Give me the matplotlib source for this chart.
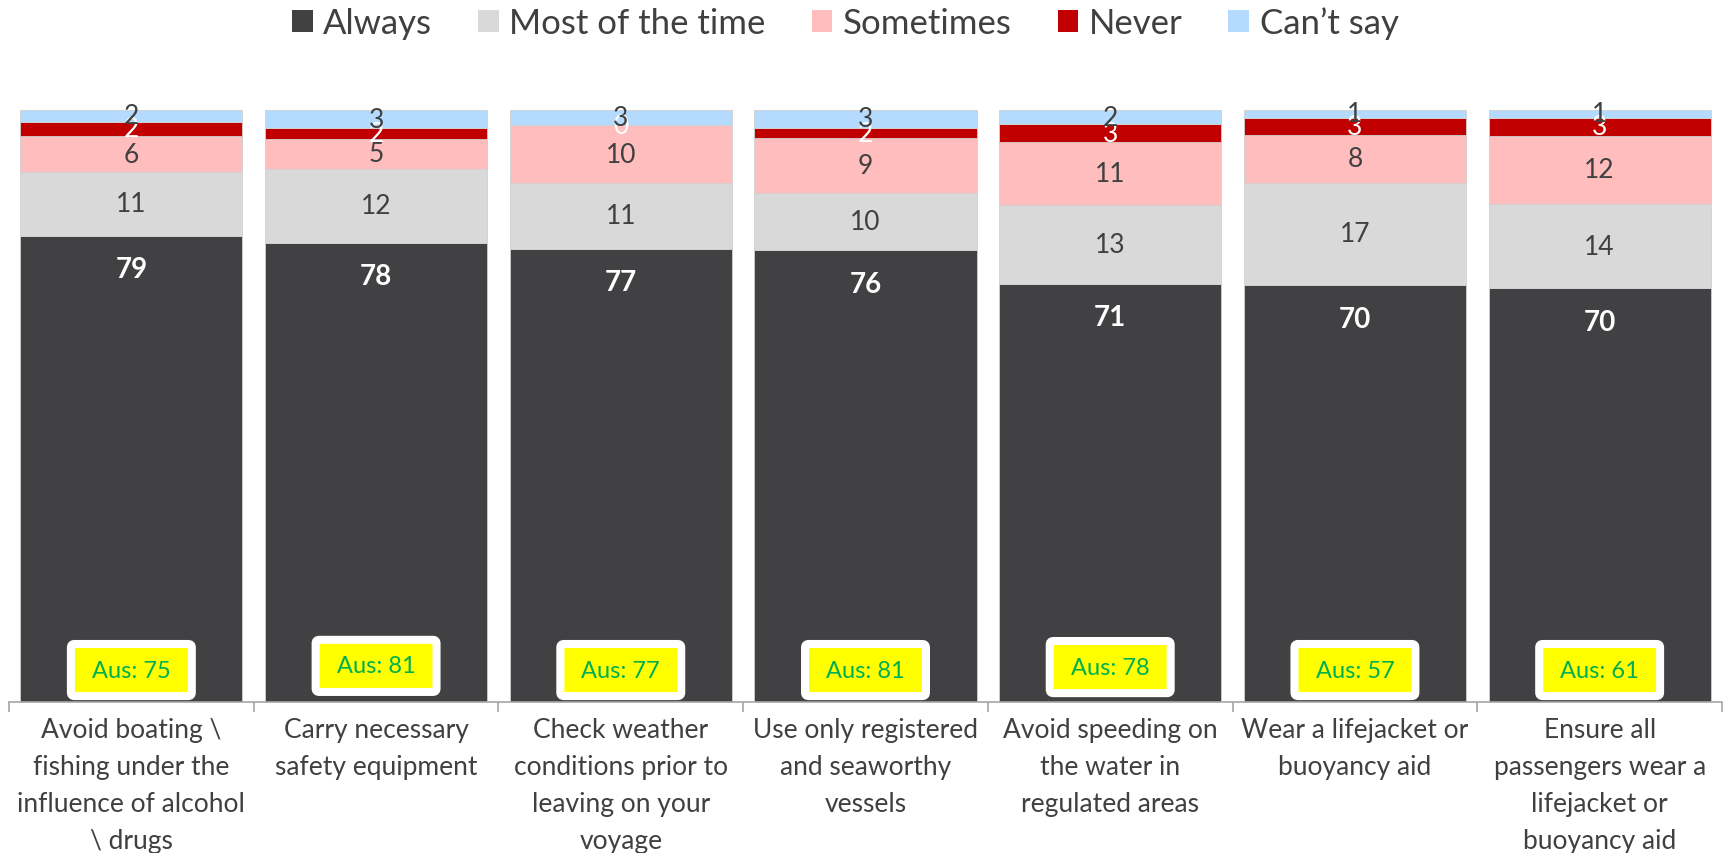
import matplotlib
matplotlib.use("Agg")
import matplotlib.pyplot as plt
from matplotlib.patches import Patch, FancyBboxPatch
import matplotlib.patheffects as pe
import numpy as np

plt.rcParams['font.family'] = ['Lato', 'DejaVu Sans']

categories = [
    "Avoid boating \\\nfishing under the\ninfluence of alcohol\n\\ drugs",
    "Carry necessary\nsafety equipment",
    "Check weather\nconditions prior to\nleaving on your\nvoyage",
    "Use only registered\nand seaworthy\nvessels",
    "Avoid speeding on\nthe water in\nregulated areas",
    "Wear a lifejacket or\nbuoyancy aid",
    "Ensure all\npassengers wear a\nlifejacket or\nbuoyancy aid",
]
always = [78.8, 77.6, 76.6, 76.3, 70.6, 70.4, 70.0]
most_of_time = [10.7, 12.5, 11.1, 9.6, 13.2, 17.3, 14.2]
sometimes = [6.1, 5.0, 9.7, 9.2, 10.7, 8.0, 11.6]
never = [2.4, 1.8, 0.0, 1.8, 3.0, 2.9, 3.0]
cant_say = [2.0, 3.1, 2.6, 3.0, 2.4, 1.35, 1.35]
aus_values = [75, 81, 77, 81, 78, 57, 61]

series_names = ["Always", "Most of the time", "Sometimes", "Never", "Can\u2019t say"]
series = [always, most_of_time, sometimes, never, cant_say]
colors = ["#414143", "#D9D9D9", "#FFBDBD", "#C00000", "#B4DAFE"]
label_colors = ["white", "#404040", "#404040", "white", "#404040"]

data = np.array(series, dtype=float)
totals = data.sum(axis=0)
pct = data / totals * 100.0

fig = plt.figure(figsize=(17.25, 8.54), dpi=100)
ax = fig.add_axes([9/1725, 151/854, (1722-9)/1725, (703-111)/854])

x = np.arange(len(categories))
width = 0.908
bottom = np.zeros(len(categories))
for k, (name, vals) in enumerate(zip(series_names, pct)):
    ax.bar(x, vals, width, bottom=bottom, color=colors[k], label=name,
           edgecolor="#D0D0D0", linewidth=0.6, zorder=2)
    for i in range(len(x)):
        txt = f"{series[k][i]:.0f}"
        if k == 0:
            y = bottom[i] + vals[i] - 5.7
            ax.text(x[i], y, txt, ha='center', va='center', fontsize=20,
                    fontweight='bold', color=label_colors[k], zorder=5)
        else:
            y = bottom[i] + vals[i] / 2
            ax.text(x[i], y, txt, ha='center', va='center', fontsize=19,
                    color=label_colors[k], zorder=5)
    bottom += vals

# Aus boxes
box_y = [5.4, 6.1, 5.4, 5.4, 5.9, 5.4, 5.4]
bw, bh = 0.494, 8.8
for i, v in enumerate(aus_values):
    p = FancyBboxPatch((x[i] - bw/2, box_y[i] - bh/2), bw, bh,
                       boxstyle="round,pad=0,rounding_size=0.015",
                       mutation_aspect=41,
                       facecolor="#FFFF00", edgecolor="white", linewidth=5.8,
                       zorder=6)
    p.set_path_effects([pe.SimplePatchShadow(offset=(1.5, -2.5), shadow_rgbFace='#111111', alpha=0.45),
                        pe.Normal()])
    ax.add_patch(p)
    ax.text(x[i], box_y[i], f"Aus: {v}", ha='center', va='center', fontsize=17,
            color="#00B050", zorder=7)

ax.set_xlim(-0.5, len(categories) - 0.5)
ax.set_ylim(0, 100)
ax.set_yticks([])
for s in ['top', 'right', 'left']:
    ax.spines[s].set_visible(False)
ax.spines['bottom'].set_color('#A6A6A6')
ax.spines['bottom'].set_linewidth(1.2)
ax.set_xticks(x)
ax.set_xticklabels(categories, fontsize=19, color='#404040', linespacing=1.6)
ax.tick_params(axis='x', which='major', length=0, pad=11)
ax.set_xticks(np.arange(-0.5, len(categories), 1.0), minor=True)
ax.tick_params(axis='x', which='minor', length=7, color='#A6A6A6', width=1.2)

handles = [Patch(facecolor=c, edgecolor='none') for c in colors]
fig.legend(handles, series_names, loc='center', bbox_to_anchor=(0.49, 0.972),
           ncol=5, frameon=False, fontsize=25, handlelength=0.6, handleheight=0.6,
           handletextpad=0.3, columnspacing=1.32, labelcolor='#404040')

fig.savefig("out.png", dpi=100)
